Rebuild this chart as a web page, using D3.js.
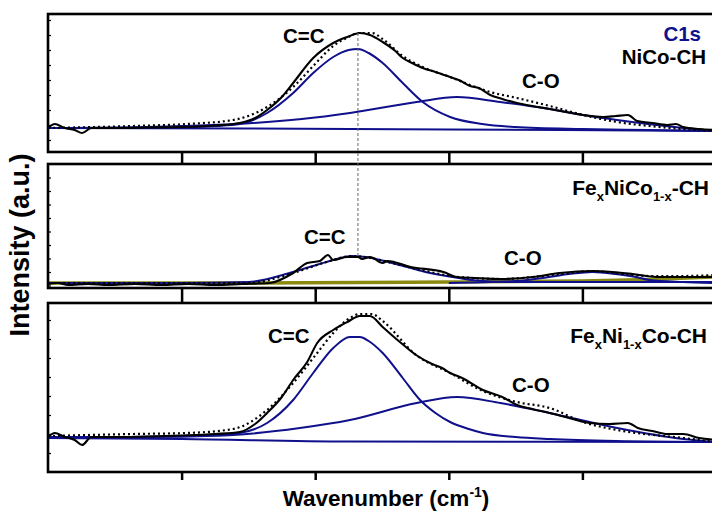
<!DOCTYPE html>
<meta charset="utf-8">
<style>
    body { margin: 0; background: #fff; }
    svg { font-family: "Liberation Sans", Arial, sans-serif; font-weight: bold; }
    .frame { fill: none; stroke: #000; stroke-width: 2.6; }
    .axis path { display: none; }
    .axis line { stroke: #000; stroke-width: 2.5; }
    .minor line { stroke: #000; stroke-width: 1.2; }
    .minor path { display: none; }
</style>
<body>
<script src="https://cdn.jsdelivr.net/npm/d3@7"></script>
<script>

    var width = 712,
        height = 521;

    // x ticks (no labels in the original)
    var xTicks = [200, 400, 600, 800];

    // ---- panel 1 : NiCo-CH ----
    var p1Raw = [[0,1],[10,5],[25,1],[40,-1],[51,-4],[65,1],[100,1],[150,1.5],[200,2],[250,3.5],[287,6],[310,11],[328,19],[350,32],[367,46],[397,71],[427,86],[448,92],[467,96],[482,94],[501,87],[520,78],[531,71],[545,66],[561,61],[580,57],[602,52],[615,49],[632,43],[645,41],[662,34],[680,30],[702,26],[725,23],[751,20],[775,17],[801,14],[831,12],[850,13],[868,14],[882,8],[905,6],[927,4],[940,5],[951,2],[975,0],[1000,-1]];
    var p1Fit = [[0,1],[128,3],[208,5],[277,9],[328,22],[367,42],[397,63],[427,83],[450,92],[464,96],[485,96],[501,90],[531,73],[561,62],[602,52],[632,44],[662,37],[702,31],[751,23],[801,14],[852,7],[900,3],[951,0],[1000,-2]];
    var p1CC = [[0,1],[100,1],[200,1.5],[250,3],[287,5],[328,16],[367,36],[397,56],[427,72],[450,79],[464,80],[480,76],[501,66],[531,46],[561,27],[602,12],[650,5],[700,2],[800,0],[900,-1],[1000,-2]];
    var p1CO = [[0,1],[100,1.5],[150,2],[200,3],[280,5],[380,10],[452,16],[552,27],[612,32],[677,27],[751,20],[801,14],[852,9],[951,1],[1000,-2]];
    var p1Base = [[0,1],[300,0.5],[600,-0.5],[1000,-2]];

    // ---- panel 2 : FexNiCo1-x-CH ----
    var p2Raw = [[0,-1],[15,0],[30,-2],[60,-1],[90,-2],[130,-1],[170,-2],[210,-1],[250,-2],[290,-1],[332,0],[367,10],[388,20],[407,22],[419,28],[427,23],[448,26],[464,26],[470,24],[482,26],[501,20],[508,22],[543,16],[592,11],[612,6],[640,5],[677,4],[726,6],[766,10],[815,12],[845,11],[875,9],[911,6],[950,6],[1000,6]];
    var p2Fit = [[0,0],[300,0],[367,10],[417,21],[455,27],[475,26],[515,20],[565,12],[615,6],[680,4],[726,6],[770,9],[815,12],[860,9],[900,7],[950,7],[1000,8]];
    var p2CC = [[0,0],[200,0],[300,1],[367,11],[417,21],[455,27],[475,26],[515,20],[565,11],[615,5],[650,2],[700,1],[1000,1]];
    var p2CO = [[600,0],[700,2],[740,5],[780,9],[815,11],[850,9],[880,6],[900,3],[950,1],[1000,0]];
    var p2Base = [[0,0],[300,0],[600,1],[800,2],[900,3.5],[1000,6]];

    // ---- panel 3 : FexNi1-xCo-CH ----
    var p3Raw = [[0,0],[10,4],[25,0],[40,-3],[51,-8],[65,0],[100,0],[150,0.5],[200,1.5],[250,3],[287,5],[310,13],[328,24],[350,40],[367,57],[388,75],[403,94],[427,107],[448,115],[467,121],[482,121],[501,110],[525,96],[551,82],[575,73],[590,69],[602,64],[620,59],[651,47],[680,40],[702,32],[725,28],[751,24],[780,19],[811,14],[840,13],[868,14],[883,9],[905,6],[927,3],[951,3],[975,-1],[1000,-3]];
    var p3Fit = [[0,1],[128,3],[208,4],[277,8],[328,27],[367,54],[403,84],[427,104],[452,119],[467,123],[485,123],[501,116],[551,82],[602,64],[651,46],[702,35],[751,29],[801,15],[852,7],[951,-1],[1000,-5]];
    var p3CC = [[0,0],[100,0],[200,0.5],[250,2],[287,4],[328,14],[367,37],[397,64],[427,89],[452,100],[467,100],[480,96],[501,84],[531,59],[557,37],[580,24],[602,15],[630,8],[651,4],[700,0],[751,-2],[850,-4],[1000,-5]];
    var p3CO = [[0,0],[100,0],[200,0.5],[277,2],[377,9],[452,17],[552,34],[612,40],[677,34],[751,24],[852,9],[951,-2],[1000,-5]];
    var p3Base = [[0,-1],[200,-2],[450,-4.5],[1000,-5]];

    // dashed guide: from the top peak down to the middle peak
    var guideX = 464, guideTop = 96, guideBottom = 27;

    var navy = "#10108c", olive = "#8a8a10";

    var panels = [
        {top: 14,  bottom: 152, zero: 129, tick0: -11,  tickStep: 15,   raw: p1Raw, fit: p1Fit, comps: [p1CC, p1CO], base: p1Base, baseColor: navy, baseW: 2,   gap: 12},
        {top: 164, bottom: 288, zero: 283, tick0: -2.5, tickStep: 13.5, raw: p2Raw, fit: p2Fit, comps: [p2CC, p2CO], base: p2Base, baseColor: olive, baseW: 3.4, gap: 15},
        {top: 303, bottom: 472, zero: 437, tick0: -16,  tickStep: 19,   raw: p3Raw, fit: p3Fit, comps: [p3CC, p3CO], base: p3Base, baseColor: navy, baseW: 2,   gap: 8}
    ];

    var svg = d3.select("body").append("svg")
        .attr("width", width)
        .attr("height", height);

    var x = d3.scaleLinear().domain([0, 1000]).range([48, 716]);

    svg.append("defs").append("clipPath").attr("id", "clipAll")
        .append("rect").attr("x", 48).attr("y", 0).attr("width", 668).attr("height", height);

    panels.forEach(function(p, i) {
        p.y = d3.scaleLinear()
            .domain([p.zero - p.bottom, p.zero - p.top])
            .range([p.bottom, p.top]);

        var line = d3.line()
            .x(function(d) { return x(d[0]); })
            .y(function(d) { return p.y(d[1]); })
            .curve(d3.curveMonotoneX);

        var g = svg.append("g").attr("clip-path", "url(#clipAll)");

        if (i == 1) {
            g.append("path").attr("d", line(p.base))
                .attr("fill", "none").attr("stroke", p.baseColor).attr("stroke-width", p.baseW);
        }
        p.comps.forEach(function(c) {
            g.append("path").attr("d", line(c))
                .attr("fill", "none").attr("stroke", navy).attr("stroke-width", 2);
        });
        if (i != 1) {
            g.append("path").attr("d", line(p.base))
                .attr("fill", "none").attr("stroke", p.baseColor).attr("stroke-width", p.baseW);
        }
        g.append("path").attr("d", line(p.fit))
            .attr("fill", "none").attr("stroke", "#000").attr("stroke-width", 2.2)
            .attr("stroke-dasharray", "2,3");
        g.append("path").attr("d", line(p.raw))
            .attr("fill", "none").attr("stroke", "#000").attr("stroke-width", 2.1);

        // inward minor ticks on the left
        svg.append("g").attr("class", "minor")
            .attr("transform", "translate(48,0)")
            .call(d3.axisRight(p.y)
                .tickValues(d3.range(p.tick0, p.zero - p.top - 2, p.tickStep))
                .tickSize(3).tickFormat(""));

        // outward ticks along the bottom
        svg.append("g").attr("class", "axis")
            .attr("transform", "translate(0," + p.bottom + ")")
            .call(d3.axisBottom(x).tickValues(xTicks).tickSize(p.gap).tickFormat(""));

        svg.append("rect").attr("class", "frame")
            .attr("x", 48).attr("y", p.top)
            .attr("width", 700).attr("height", p.bottom - p.top);
    });

    // dashed guide line
    svg.append("line")
        .attr("x1", x(guideX)).attr("x2", x(guideX))
        .attr("y1", panels[0].y(guideTop)).attr("y2", panels[1].y(guideBottom))
        .attr("stroke", "#666").attr("stroke-width", 1)
        .attr("stroke-dasharray", "3,2");

    function label(tx, ty, txt, size, anchor, color) {
        return svg.append("text").attr("x", tx).attr("y", ty)
            .attr("font-size", size).attr("text-anchor", anchor || "start")
            .attr("fill", color || "#000").text(txt);
    }

    label(283, 43, "C=C", 20.5);
    label(522, 88, "C-O", 20.5);
    label(701, 41, "C1s", 20.5, "end", navy);
    label(706, 64, "NiCo-CH", 20.5, "end");

    label(304, 244, "C=C", 20.5);
    label(504, 265, "C-O", 20.5);
    var t2 = label(709, 195, "", 21, "end");
    t2.append("tspan").text("Fe");
    t2.append("tspan").attr("font-size", 13).attr("dy", 6).text("x");
    t2.append("tspan").attr("dy", -6).text("NiCo");
    t2.append("tspan").attr("font-size", 13).attr("dy", 6).text("1-x");
    t2.append("tspan").attr("dy", -6).text("-CH");

    label(268, 343, "C=C", 20.5);
    label(512, 392, "C-O", 20.5);
    var t3 = label(707, 343, "", 21, "end");
    t3.append("tspan").text("Fe");
    t3.append("tspan").attr("font-size", 13).attr("dy", 6).text("x");
    t3.append("tspan").attr("dy", -6).text("Ni");
    t3.append("tspan").attr("font-size", 13).attr("dy", 6).text("1-x");
    t3.append("tspan").attr("dy", -6).text("Co-CH");

    var xl = label(386, 506, "Wavenumber (cm", 22.5, "middle");
    xl.append("tspan").attr("font-size", 14).attr("dy", -9).text("-1");
    xl.append("tspan").attr("dy", 9).text(")");

    svg.append("text")
        .attr("transform", "translate(29,245) rotate(-90)")
        .attr("text-anchor", "middle").attr("font-size", 27)
        .text("Intensity (a.u.)");

</script>
